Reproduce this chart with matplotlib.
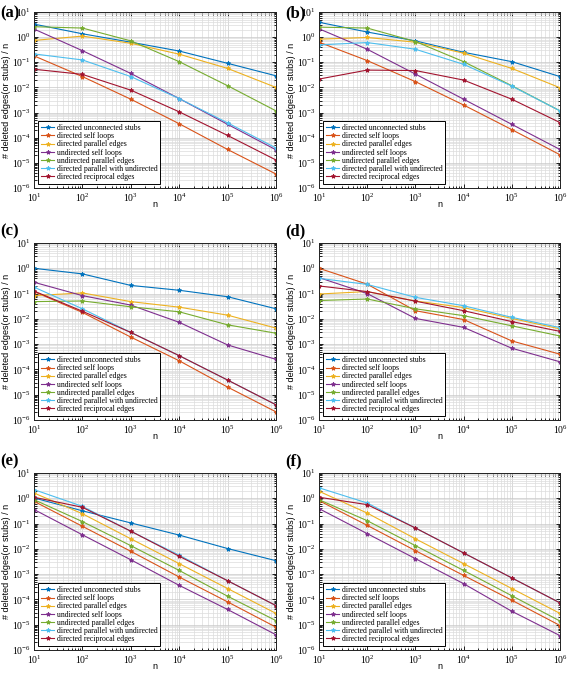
import matplotlib
matplotlib.use("Agg")
import matplotlib.pyplot as plt
import numpy as np
from matplotlib.ticker import LogLocator, LogFormatterSciNotation, NullFormatter

plt.rcParams["font.family"] = "Liberation Serif"
plt.rcParams["mathtext.fontset"] = "stix"

n_values = [1e1, 1e2, 1e3, 1e4, 1e5, 1e6]

series_names = [
    "directed unconnected stubs",
    "directed self loops",
    "directed parallel edges",
    "undirected self loops",
    "undirected parallel edges",
    "directed parallel with undirected",
    "directed reciprocal edges",
]
series_colors = ["#0072BD", "#D95319", "#EDB120", "#7E2F8E",
                 "#77AC30", "#4DBEEE", "#A2142F"]

nan = float("nan")

# rows follow series_names
panel_a = [
    [3.3, 1.36, 0.63, 0.28, 0.091, 0.029],
    [0.18, 0.027, 0.0034, 3.6e-4, 3.4e-5, 3.6e-6],
    [0.74, 1.1, 0.57, 0.21, 0.057, 0.01],
    [2.1, 0.29, 0.036, 0.0036, 3.4e-4, 3.3e-5],
    [2.6, 2.3, 0.71, 0.106, 0.0117, 0.00117],
    [0.215, 0.124, 0.027, 0.0036, 3.9e-4, 3.9e-5],
    [0.053, 0.033, 0.0078, 0.00107, 1.23e-4, 1.3e-5],
]
panel_b = [
    [3.9, 1.6, 0.71, 0.25, 0.106, 0.027],
    [0.63, 0.117, 0.017, 0.002, 2.1e-4, 2.1e-5],
    [0.83, 0.97, 0.63, 0.23, 0.057, 0.0097],
    [2.15, 0.33, 0.034, 0.0034, 3.4e-4, 3.4e-5],
    [2.5, 2.3, 0.67, 0.106, 0.0117, 0.00117],
    [0.49, 0.61, 0.33, 0.083, 0.0113, 0.00117],
    [0.0215, 0.049, 0.047, 0.0196, 0.0034, 4.0e-4],
]
panel_c = [
    [1.0, 0.6, 0.21, 0.135, 0.075, 0.025],
    [0.12, 0.018, 0.0019, 2.2e-4, 2.0e-5, 2.1e-6],
    [0.083, 0.106, 0.048, 0.029, 0.014, 0.0043],
    [0.28, 0.083, 0.035, 0.0073, 9.3e-4, 2.5e-4],
    [0.048, 0.051, 0.030, 0.019, 0.0058, 0.0027],
    [0.18, 0.025, 0.0029, 3.5e-4, 3.8e-5, 4.0e-6],
    [0.126, 0.020, 0.0029, 3.5e-4, 3.8e-5, 4.0e-6],
]
panel_d = [
    [nan, nan, nan, nan, nan, nan],
    [1.0, 0.235, 0.021, 0.0094, 0.00134, 4.0e-4],
    [0.096, 0.12, 0.051, 0.028, 0.0104, 0.004],
    [0.43, 0.1, 0.0104, 0.0046, 6.9e-4, 2.0e-4],
    [0.053, 0.061, 0.025, 0.0134, 0.0053, 0.0021],
    [0.4, 0.23, 0.071, 0.033, 0.0115, 0.0045],
    [0.2, 0.12, 0.05, 0.021, 0.0078, 0.0032],
]
panel_e = [
    [1.03, 0.32, 0.106, 0.035, 0.0103, 0.0034],
    [0.76, 0.078, 0.008, 7.7e-4, 8e-5, 8e-6],
    [1.62, 0.245, 0.025, 0.0026, 2.7e-4, 2.8e-5],
    [0.36, 0.036, 0.0037, 3.6e-4, 4e-5, 4e-6],
    [0.88, 0.12, 0.0134, 0.0014, 1.34e-4, 1.45e-5],
    [2.2, 0.48, 0.05, 0.0056, 5.5e-4, 5.7e-5],
    [1.1, 0.44, 0.05, 0.0051, 5.5e-4, 5.7e-5],
]
panel_f = [
    [nan, nan, nan, nan, nan, nan],
    [0.81, 0.085, 0.0085, 8.9e-4, 9.3e-5, 9.3e-6],
    [1.9, 0.26, 0.025, 0.0026, 2.7e-4, 2.8e-5],
    [0.39, 0.04, 0.0041, 4.2e-4, 3.4e-5, 3.7e-6],
    [0.88, 0.13, 0.0134, 0.0014, 1.4e-4, 1.4e-5],
    [2.6, 0.65, 0.067, 0.0069, 7.1e-4, 7.3e-5],
    [1.1, 0.56, 0.067, 0.0069, 7.1e-4, 7.3e-5],
]

panels = [("(a)", panel_a), ("(b)", panel_b), ("(c)", panel_c),
          ("(d)", panel_d), ("(e)", panel_e), ("(f)", panel_f)]

W, H = 568, 673
fig = plt.figure(figsize=(W / 100, H / 100), dpi=100)

# axes boxes in pixels: left, top, right, bottom
col_x = [(34, 276), (319, 560)]
row_y = [(12, 188), (243, 420), (473, 650)]

for i, (tag, data) in enumerate(panels):
    x0, x1 = col_x[i % 2]
    y0, y1 = row_y[i // 2]
    w, h = x1 - x0, y1 - y0
    ax = fig.add_axes([x0 / W, 1 - y1 / H, w / W, h / H])

    for vals, name, col in zip(data, series_names, series_colors):
        ax.plot(n_values, vals, "-*", color=col, lw=0.8, ms=3.0,
                mew=0.7, label=name)

    ax.set_xscale("log")
    ax.set_yscale("log")
    ax.set_xlim(1e1, 1e6)
    ax.set_ylim(1e-6, 1e1)
    ax.xaxis.set_major_locator(LogLocator(base=10, numticks=10))
    ax.yaxis.set_major_locator(LogLocator(base=10, numticks=10))
    ax.xaxis.set_minor_locator(LogLocator(base=10, subs=np.arange(2, 10), numticks=20))
    ax.yaxis.set_minor_locator(LogLocator(base=10, subs=np.arange(2, 10), numticks=20))
    ax.xaxis.set_major_formatter(LogFormatterSciNotation())
    ax.yaxis.set_major_formatter(LogFormatterSciNotation())
    ax.xaxis.set_minor_formatter(NullFormatter())
    ax.yaxis.set_minor_formatter(NullFormatter())
    ax.tick_params(which="both", direction="in", top=True, right=True,
                   labelsize=7, width=0.6, pad=2.5)
    ax.tick_params(which="major", length=3)
    ax.tick_params(which="minor", length=1.8)
    ax.grid(True, which="major", color="#c8c8c8", lw=0.5)
    ax.grid(True, which="minor", color="#dcdcdc", lw=0.5)
    ax.set_axisbelow(True)
    for sp in ax.spines.values():
        sp.set_linewidth(0.7)
        sp.set_color("#222222")

    ax.set_xlabel("n", fontsize=6.5, family="Liberation Sans")
    ax.set_ylabel("# deleted edges(or stubs) / n", fontsize=6.5,
                  family="Liberation Sans")
    ax.xaxis.set_label_coords(0.5, -12 / h)
    ax.yaxis.set_label_coords(-23 / w, 0.5)

    leg = ax.legend(loc="lower left", fontsize=5.6, frameon=True,
                    fancybox=False, edgecolor="black", framealpha=1,
                    borderpad=0.4, labelspacing=0.02, handlelength=1.7,
                    handletextpad=0.3, borderaxespad=0.5)
    leg.get_frame().set_linewidth(0.7)

    # panel tag
    tx = (x0 - 34) / W
    ty = 1 - (y0 + 1) / H if i < 2 else 1 - (y0 - 12) / H
    fig.text(tx, ty, tag, fontsize=12, fontweight="bold",
             va="center", ha="left")

fig.savefig("out.png", dpi=100)
